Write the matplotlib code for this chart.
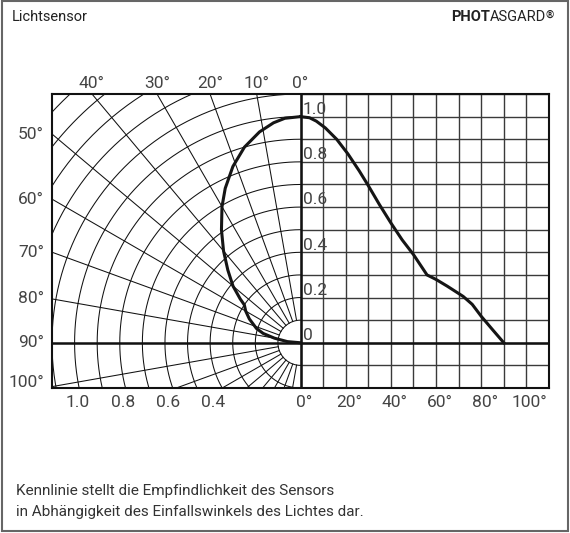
import numpy as np
import matplotlib.pyplot as plt
import matplotlib.patches as patches

plt.rcParams['font.family'] = ['Roboto', 'DejaVu Sans']

# sensitivity curve (angle of incidence in degrees, relative value)
angle_deg = [0, 4, 7, 11, 16, 21, 26, 30, 35, 40, 45, 50, 54, 56, 60, 65, 72, 76, 80, 85, 90]
sensitivity = [1.0, 0.995, 0.98, 0.95, 0.90, 0.835, 0.76, 0.695, 0.61, 0.53, 0.455,
               0.39, 0.33, 0.30, 0.28, 0.25, 0.205, 0.17, 0.117, 0.058, 0.0]

polar_angle_ticks = [0, 10, 20, 30, 40, 50, 60, 70, 80, 90, 100]
radius_ticks = [1.0, 0.8, 0.6, 0.4]
radius_labels = ['1.0', '0.8', '0.6', '0.4']
deg_ticks = [0, 20, 40, 60, 80, 100]
value_ticks = [1.0, 0.8, 0.6, 0.4, 0.2, 0]
value_labels = ['1.0', '0.8', '0.6', '0.4', '0.2', '0']

W, H = 570, 533
fig = plt.figure(figsize=(W / 100, H / 100), dpi=100)
ax = fig.add_axes([52 / W, 1 - 388 / H, 497 / W, 294 / H])

# polar grid (left half), 0 deg pointing up, angles growing to the left
th = np.linspace(0, np.pi, 400)
for r in np.arange(0.1, 1.55, 0.1):
    ax.plot(-r * np.sin(th), r * np.cos(th), color='#111111', lw=0.75)
for a in range(10, 180, 10):
    t = np.radians(a)
    ax.plot([-0.1 * np.sin(t), -2 * np.sin(t)], [0.1 * np.cos(t), 2 * np.cos(t)],
            color='#111111', lw=0.75)

# cartesian grid (right half), 10 deg = 0.1 units
for d in range(0, 111, 10):
    ax.plot([d / 100, d / 100], [-0.2, 1.1], color='#3a3a3a', lw=1.0)
for v in np.arange(-0.2, 1.11, 0.1):
    ax.plot([0, 1.1], [v, v], color='#3a3a3a', lw=1.0)

ax.axhline(0, color='#111111', lw=1.8)
ax.axvline(0, color='#111111', lw=1.8)

# curve in both representations
a = np.radians(angle_deg)
s = np.array(sensitivity)
ax.plot(np.array(angle_deg) / 100, s, color='#151515', lw=2.2, solid_joinstyle='round')
ax.plot(-s * np.sin(a), s * np.cos(a), color='#151515', lw=2.2, solid_joinstyle='round')

ax.set_xlim(-1.1, 1.1)
ax.set_ylim(-0.2, 1.1)
ax.set_xticks([])
ax.set_yticks([])
for sp in ax.spines.values():
    sp.set_linewidth(1.5)
    sp.set_color('#111111')

lab = dict(fontsize=12.5, color='#444444')
for d in polar_angle_ticks:
    t = np.radians(d)
    if d <= 40:
        ax.text(-1.1 * np.tan(t), 1.127, f'{d}°', ha='center', va='baseline', **lab)
    else:
        y = max(1.1 / np.tan(t), -0.175)
        ax.text(-1.135, y, f'{d}°', ha='right', va='center', **lab)

for r, l in zip(radius_ticks, radius_labels):
    ax.text(-r + 0.015, -0.262, l, ha='center', va='center', **lab)
for d in deg_ticks:
    ax.text(d / 100 + 0.015, -0.262, f'{d}°', ha='center', va='center', **lab)
for v, l in zip(value_ticks, value_labels):
    ax.text(0.01, v + 0.012, l, ha='left', va='baseline', **lab)

# header and footer
fig.text(12 / W, 1 - 17 / H, 'Lichtsensor', fontsize=10.5, color='#222222', va='center')
reg = fig.text(546 / W, 1 - 17 / H, 'ASGARD', fontsize=10.5, color='#222222',
               ha='right', va='center')
ax.annotate('PHOT', xy=(0, 0), xycoords=reg, ha='right', va='bottom',
            fontsize=10.5, fontweight='bold', color='#222222')
ax.annotate('®', xy=(1, 1.05), xycoords=reg, ha='left', va='top',
            fontsize=7.5, fontweight='bold', color='#222222')

fig.text(16 / W, 1 - 491 / H, 'Kennlinie stellt die Empfindlichkeit des Sensors',
         fontsize=11, color='#333333', va='center')
fig.text(16 / W, 1 - 512 / H, 'in Abhängigkeit des Einfallswinkels des Lichtes dar.',
         fontsize=11, color='#333333', va='center')

fig.add_artist(patches.Rectangle((2 / W, 2 / H), 566 / W, 530 / H, transform=fig.transFigure,
                                 fill=False, ec='#666666', lw=1.5))

fig.savefig('out.png', dpi=100)
